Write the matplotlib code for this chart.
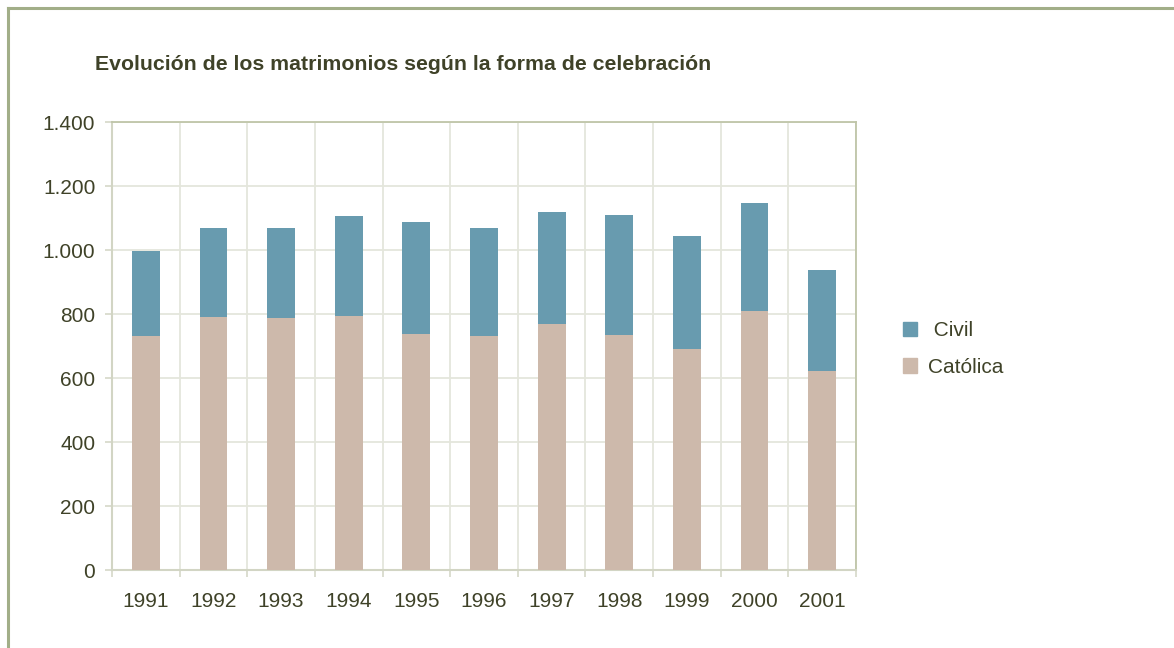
import matplotlib
matplotlib.use("Agg")
import matplotlib.pyplot as plt
import numpy as np
from matplotlib.lines import Line2D
from matplotlib.patches import Patch
from matplotlib.ticker import FuncFormatter

plt.rcParams["font.family"] = ["Liberation Sans", "DejaVu Sans"]

years = ["1991", "1992", "1993", "1994", "1995", "1996", "1997", "1998", "1999", "2000", "2001"]
catolica = [731, 791, 787, 794, 737, 731, 769, 734, 691, 809, 622]
civil = [266, 278, 282, 312, 350, 338, 350, 375, 353, 338, 315]

title = "Evolución de los matrimonios según la forma de celebración"
c_civil = "#689BAF"
c_catolica = "#CDB9AB"
text_col = "#3F4228"
grid_col = "#E4E6DC"
frame_col = "#A2AE88"

fig = plt.figure(figsize=(11.74, 6.48), dpi=100)
ax = fig.add_axes([112 / 1174, 78 / 648, 744 / 1174, 448 / 648])

x = np.arange(len(years))
ax.bar(x, catolica, width=0.41, color=c_catolica, zorder=3)
ax.bar(x, civil, width=0.41, bottom=catolica, color=c_civil, zorder=3)

ax.set_xlim(-0.5, len(years) - 0.5)
ax.set_ylim(0, 1400)
ax.set_yticks(np.arange(0, 1401, 200))
ax.yaxis.set_major_formatter(FuncFormatter(lambda v, p: f"{int(v):,}".replace(",", ".")))
ax.set_xticks(x)
ax.set_xticklabels(years)
ax.set_xticks(np.arange(-0.5, len(years)), minor=True)

ax.grid(axis="y", color=grid_col, lw=1.3, zorder=0)
ax.grid(axis="x", which="minor", color=grid_col, lw=1.3, zorder=0)

ax.tick_params(axis="x", which="major", length=0, pad=16, labelsize=15, labelcolor=text_col)
ax.tick_params(axis="x", which="minor", length=5, color="#D5D8C8", width=1.2)
ax.tick_params(axis="y", length=5, pad=7, labelsize=15, labelcolor=text_col, color="#D5D8C8", width=1.2)

for side in ["left", "bottom"]:
    ax.spines[side].set_color("#D2D5C4")
    ax.spines[side].set_linewidth(1.5)
for side in ["top", "right"]:
    ax.spines[side].set_color("#BFC5A8")
    ax.spines[side].set_linewidth(1.3)

fig.text(95 / 1174, 1 - 64 / 648, title, fontsize=15.3, fontweight="bold",
         color=text_col, ha="left", va="center")

handles = [Patch(color=c_civil, label=" Civil"), Patch(color=c_catolica, label="Católica")]
fig.legend(handles=handles, loc="center left", bbox_to_anchor=(884 / 1174, 1 - 349 / 648),
           frameon=False, fontsize=15, labelcolor=text_col, handlelength=0.67,
           handleheight=0.67, labelspacing=0.85, handletextpad=0.53)

# outer frame, only top and left edges are visible
fig.add_artist(Line2D([8 / 1174, 1], [1 - 8 / 648, 1 - 8 / 648], color=frame_col, lw=2.2,
                      transform=fig.transFigure))
fig.add_artist(Line2D([8 / 1174, 8 / 1174], [0, 1 - 8 / 648], color=frame_col, lw=2.2,
                      transform=fig.transFigure))

fig.savefig("out.png", dpi=100)
